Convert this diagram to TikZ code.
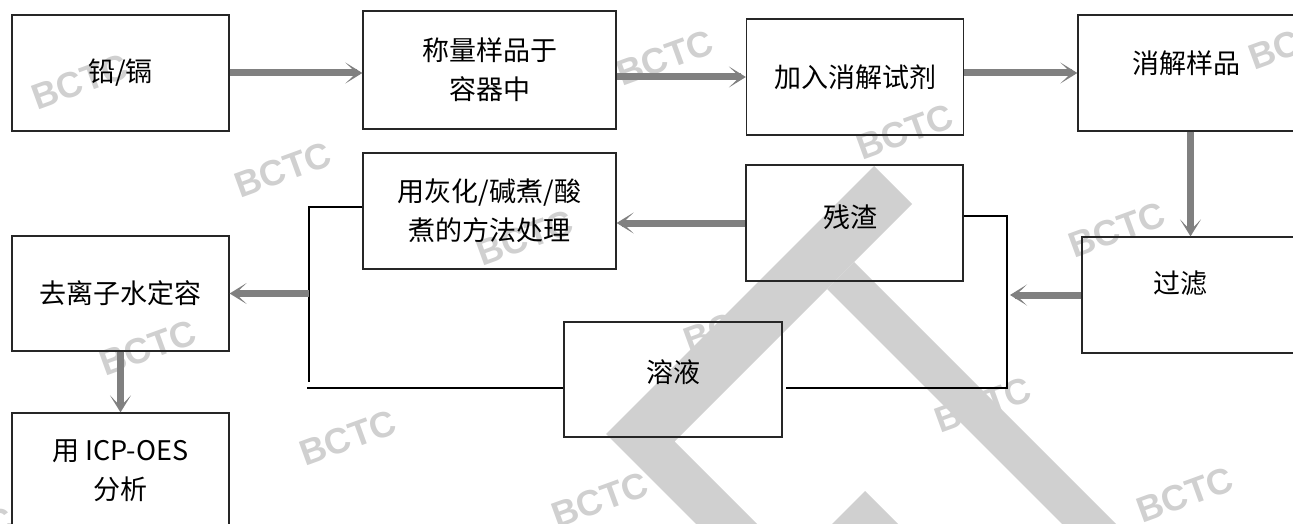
\documentclass[tikz,border=0pt]{standalone}
\usepackage{fontspec}
\setmainfont{Noto Sans CJK SC}
\newfontfamily\wmfont{Liberation Sans}
\usetikzlibrary{arrows.meta}
\definecolor{arrowgray}{HTML}{808080}
\definecolor{wmgray}{HTML}{D0D0D0}
\newcommand{\raisetxt}[2]{\raisebox{#1}[\height][\depth]{#2}}
\begin{document}
\begin{tikzpicture}[x=1pt,y=-1pt,
  box/.style={draw=black!85, line width=1.3pt, minimum width=217pt, minimum height=116pt,
    inner sep=0pt, align=center, font=\fontsize{27}{39}\selectfont},
  wide/.style={box, minimum width=253pt, minimum height=118pt},
  flow/.style={draw=arrowgray, line width=7pt, -{Stealth[length=17pt,width=21pt,inset=11pt]}},
  bracket/.style={draw=black, line width=2.8pt},
  wm/.style={text=wmgray, font=\wmfont\bfseries\fontsize{36}{36}\selectfont, rotate=20, inner sep=0pt}]
\useasboundingbox (0,0) rectangle (1293,524);
\clip (0,0) rectangle (1293,524);
% watermark
\fill[wmgray] (874,166) -- (912,204) -- (674.5,441.5) -- (763,530) -- (702,530) -- (606,434) -- cycle;
\fill[wmgray] (854,262) -- (1122,530) -- (1068,530) -- (827,289) -- cycle;
\fill[wmgray] (865,491) -- (904,530) -- (826,530) -- cycle;
\node[wm] (w1) at (80,82) {BCTC};
\node[wm] (w2) at (665,58) {BCTC};
\node[wm] (w3) at (1297,42) {BCTC};
\node[wm] (w4) at (905,132) {BCTC};
\node[wm] (w5) at (283,170) {BCTC};
\node[wm] (w6) at (525,238) {BCTC};
\node[wm] (w7) at (1117,230) {BCTC};
\node[wm] (w8) at (148,348) {BCTC};
\node[wm] (w9) at (732,325) {BCTC};
\node[wm] (w10) at (983,405) {BCTC};
\node[wm] (w11) at (348,438) {BCTC};
\node[wm] (w12) at (600,500) {BCTC};
\node[wm] (w13) at (1185,495) {BCTC};
\node[wm] (w14) at (-35,535) {BCTC};
% boxes
\node[box] (b1) at (120.5,73) {铅/镉};
\node[wide] (b2) at (489.5,70) {称量样品于\\容器中};
\node[box] (b3) at (855,77) {加入消解试剂};
\node[box] (b4) at (1186.5,73) {\raisetxt{10pt}{消解样品}};
\node[box] (b5) at (1190.5,295) {\hspace*{-20pt}\raisetxt{12pt}{过滤}};
\node[box] (b6) at (854.5,223) {\hspace*{-8pt}\raisetxt{6pt}{残渣}};
\node[wide, minimum height=116pt] (b7) at (489.5,211) {用灰化/碱煮/酸\\煮的方法处理};
\node[box, minimum width=218pt, minimum height=115pt] (b8) at (673,379.5) {\raisetxt{7pt}{溶液}};
\node[box, minimum height=115pt] (b9) at (120.5,293.5) {去离子水定容};
\node[box] (b10) at (120.5,471) {用 ICP-OES\\分析};
% bracket junctions
\coordinate (rt) at (1007,216);
\coordinate (rb) at (1007,388);
\coordinate (lt) at (309,207);
\coordinate (lb) at (309,382);
\coordinate (lbb) at (307,388);
\draw[bracket] (b6.east |- rt) -- (rt) -- (rb) -- ([xshift=3pt]b8.east |- rb);
\draw[bracket] (b7.west |- lt) -- (lt) -- (lb);
\draw[bracket] (lbb) -- (b8.west |- lbb);
% arrows
\draw[flow] (b1.east) -- (b1.east -| b2.west);
\draw[flow] (b3.west -| b2.east) -- (b3.west);
\draw[flow] (b4.west -| b3.east) -- (b4.west);
\draw[flow] (b5.north |- b4.south) -- (b5.north);
\draw[flow] (b5.west) -- ([xshift=3pt]b5.west -| rt);
\draw[flow] (b6.west) -- (b6.west -| b7.east);
\draw[flow] (b9.east -| lt) -- (b9.east);
\draw[flow] (b9.south) -- (b10.north);
\end{tikzpicture}
\end{document}
